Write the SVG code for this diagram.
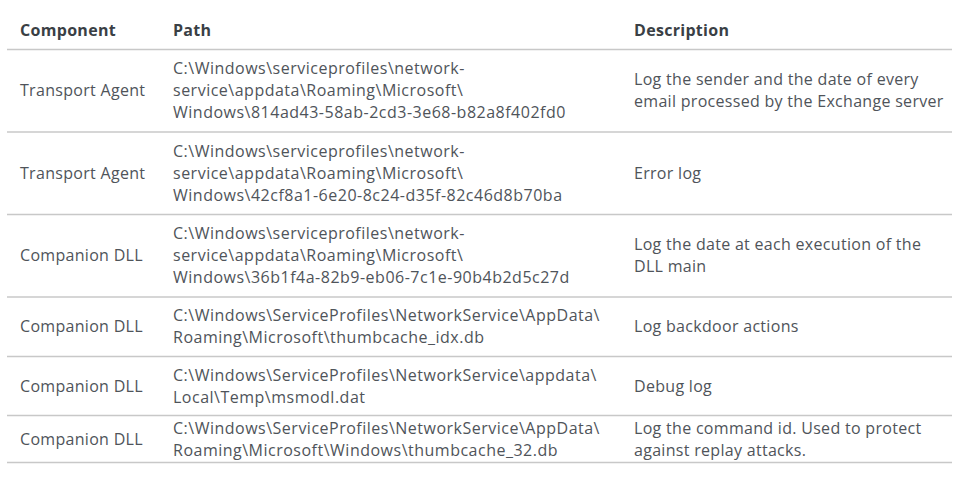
<svg xmlns="http://www.w3.org/2000/svg" width="959" height="477" viewBox="0 0 959 477">
<style>
text{font-family:"Open Sans","Noto Sans","Liberation Sans",sans-serif;font-size:16px;letter-spacing:0.3px;fill:#4f545a}
.h{font-weight:bold;fill:#3a3f45}
.p{letter-spacing:0.5px}
.rule{stroke:#c8c8c8;stroke-width:1.3}
</style>
<rect width="959" height="477" fill="#ffffff"/>
<g id="connectors">
<line class="rule" x1="7" y1="49.5" x2="952" y2="49.5"/>
<line class="rule" x1="7" y1="132" x2="952" y2="132"/>
<line class="rule" x1="7" y1="214.5" x2="952" y2="214.5"/>
<line class="rule" x1="7" y1="297" x2="952" y2="297"/>
<line class="rule" x1="7" y1="356.5" x2="952" y2="356.5"/>
<line class="rule" x1="7" y1="415.5" x2="952" y2="415.5"/>
<line class="rule" x1="7" y1="462.5" x2="952" y2="462.5"/>
</g>
<g id="header">
<text class="h" x="20" y="36">Component</text>
<text class="h" x="173" y="36">Path</text>
<text class="h" x="634" y="36">Description</text>
</g>
<g id="row1">
<text x="20" y="96">Transport Agent</text>
<text class="p" x="173" y="74">C:\Windows\serviceprofiles\network-</text>
<text class="p" x="173" y="96">service\appdata\Roaming\Microsoft\</text>
<text class="p" x="173" y="118">Windows\814ad43-58ab-2cd3-3e68-b82a8f402fd0</text>
<text x="634" y="85">Log the sender and the date of every</text>
<text x="634" y="107">email processed by the Exchange server</text>
</g>
<g id="row2">
<text x="20" y="178.5">Transport Agent</text>
<text class="p" x="173" y="156.5">C:\Windows\serviceprofiles\network-</text>
<text class="p" x="173" y="178.5">service\appdata\Roaming\Microsoft\</text>
<text class="p" x="173" y="200.5">Windows\42cf8a1-6e20-8c24-d35f-82c46d8b70ba</text>
<text x="634" y="178.5">Error log</text>
</g>
<g id="row3">
<text x="20" y="261">Companion DLL</text>
<text class="p" x="173" y="239">C:\Windows\serviceprofiles\network-</text>
<text class="p" x="173" y="261">service\appdata\Roaming\Microsoft\</text>
<text class="p" x="173" y="283">Windows\36b1f4a-82b9-eb06-7c1e-90b4b2d5c27d</text>
<text x="634" y="250">Log the date at each execution of the</text>
<text x="634" y="272">DLL main</text>
</g>
<g id="row4">
<text x="20" y="332">Companion DLL</text>
<text class="p" x="173" y="321">C:\Windows\ServiceProfiles\NetworkService\AppData\</text>
<text class="p" x="173" y="343">Roaming\Microsoft\thumbcache_idx.db</text>
<text x="634" y="332">Log backdoor actions</text>
</g>
<g id="row5">
<text x="20" y="391.5">Companion DLL</text>
<text class="p" x="173" y="380.5">C:\Windows\ServiceProfiles\NetworkService\appdata\</text>
<text class="p" x="173" y="402.5">Local\Temp\msmodl.dat</text>
<text x="634" y="391.5">Debug log</text>
</g>
<g id="row6">
<text x="20" y="444.5">Companion DLL</text>
<text class="p" x="173" y="433.5">C:\Windows\ServiceProfiles\NetworkService\AppData\</text>
<text class="p" x="173" y="455.5">Roaming\Microsoft\Windows\thumbcache_32.db</text>
<text x="634" y="433.5">Log the command id. Used to protect</text>
<text x="634" y="455.5">against replay attacks.</text>
</g>
</svg>
